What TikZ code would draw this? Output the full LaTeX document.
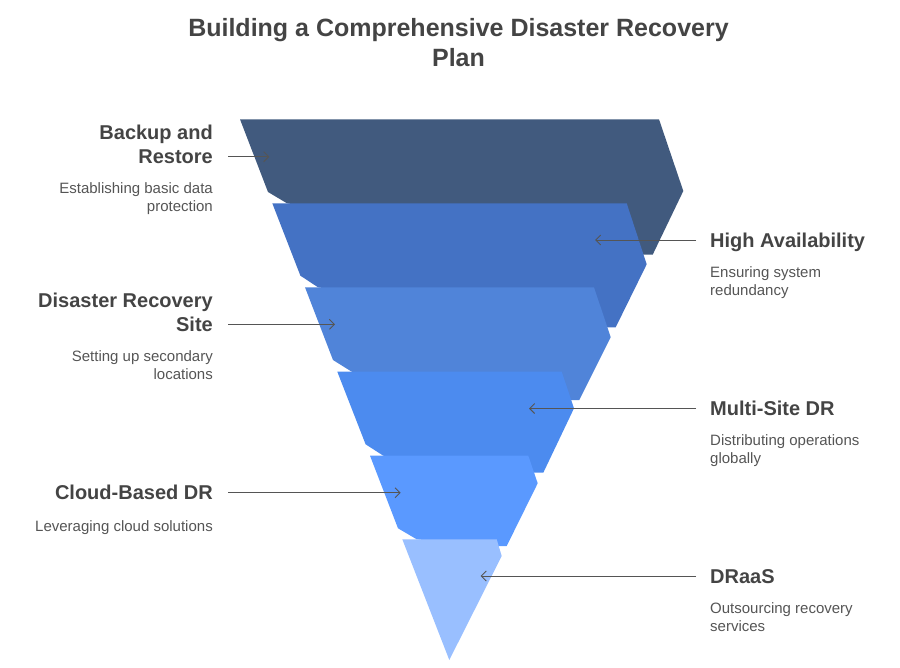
\documentclass[tikz,border=0pt]{standalone}
\usepackage{fontspec}
\setmainfont{Liberation Sans}
\usetikzlibrary{arrows.meta}
\definecolor{txt}{HTML}{444444}
\definecolor{dsc}{HTML}{555555}
\definecolor{cA}{HTML}{415A7E}
\definecolor{cB}{HTML}{4472C4}
\definecolor{cC}{HTML}{5084D9}
\definecolor{cD}{HTML}{4C8BEF}
\definecolor{cE}{HTML}{5A99FF}
\definecolor{cF}{HTML}{99BFFF}
\tikzset{
  head/.style={inner sep=0pt, text=txt, font=\fontsize{20}{24}\selectfont\bfseries},
  desc/.style={inner sep=0pt, text=dsc, font=\fontsize{15}{18}\selectfont},
  conn/.style={draw=dsc, line width=0.9pt, -{Straight Barb[length=5pt,width=10pt]}},
}
\begin{document}
\begin{tikzpicture}[x=1pt,y=-1pt]
\useasboundingbox (0,0) rectangle (900,667);
% title (base anchor = baseline of last line)
\node[inner sep=0pt, text=txt, font=\fontsize{25}{30}\selectfont\bfseries, align=center, anchor=base] (title) at (458.5,66) {Building a Comprehensive Disaster Recovery\\Plan};
% funnel layers
\fill[cA] (240,119.3) -- (659,119.3) -- (683.3,191) -- (652.7,254.7) -- (623,254.7) -- (287,203.3) -- (268,192) -- cycle;
\fill[cB] (272.3,203.3) -- (626.7,203.3) -- (646.7,264.3) -- (615.7,327.3) -- (590,327.3) -- (318,287.3) -- (300.4,275.7) -- cycle;
\fill[cC] (305,287.3) -- (594,287.3) -- (610.7,337.3) -- (579.3,400) -- (555,400) -- (351.7,371.7) -- (333,360) -- cycle;
\fill[cD] (337.3,371.7) -- (561.7,371.7) -- (574,408.3) -- (543.3,472.7) -- (520,472.7) -- (383.3,455.7) -- (365.6,444.3) -- cycle;
\fill[cE] (370,455.7) -- (528.3,455.7) -- (537.7,483.3) -- (506.7,546) -- (485,546) -- (416.7,539.3) -- (398,528.3) -- cycle;
\fill[cF] (402.3,539.3) -- (496.7,539.3) -- (501.7,556) -- (449.3,660) -- cycle;
% left labels
\node[head, align=right, anchor=base east] (h1) at (213,163.5) {Backup and\\Restore};
\node[desc, align=right, anchor=base east] (d1) at (213,211) {Establishing basic data\\protection};
\node[head, align=right, anchor=base east] (h3) at (213,331.5) {Disaster Recovery\\Site};
\node[desc, align=right, anchor=base east] (d3) at (213,379) {Setting up secondary\\locations};
\node[head, anchor=base east] (h5) at (213,499.5) {Cloud-Based DR};
\node[desc, anchor=base east] (d5) at (213,531) {Leveraging cloud solutions};
% right labels
\node[head, anchor=base west] (h2) at (710,247.5) {High Availability};
\node[desc, align=left, anchor=base west] (d2) at (710,295) {Ensuring system\\redundancy};
\node[head, anchor=base west] (h4) at (710,415.5) {Multi-Site DR};
\node[desc, align=left, anchor=base west] (d4) at (710,463) {Distributing operations\\globally};
\node[head, anchor=base west] (h6) at (710,583.5) {DRaaS};
\node[desc, align=left, anchor=base west] (d6) at (710,631) {Outsourcing recovery\\services};
% connector ends
\coordinate (s1) at (228,156.7); \coordinate (t1) at (269.3,156.7);
\coordinate (s2) at (696,240);   \coordinate (t2) at (595,240);
\coordinate (s3) at (228,324.3); \coordinate (t3) at (335,324.3);
\coordinate (s4) at (696,408.5); \coordinate (t4) at (529,408.5);
\coordinate (s5) at (228,492.7); \coordinate (t5) at (400.7,492.7);
\coordinate (s6) at (696,576);   \coordinate (t6) at (480.7,576);
\foreach \i in {1,...,6} {\draw[conn] (s\i) -- (t\i);}
\end{tikzpicture}
\end{document}
